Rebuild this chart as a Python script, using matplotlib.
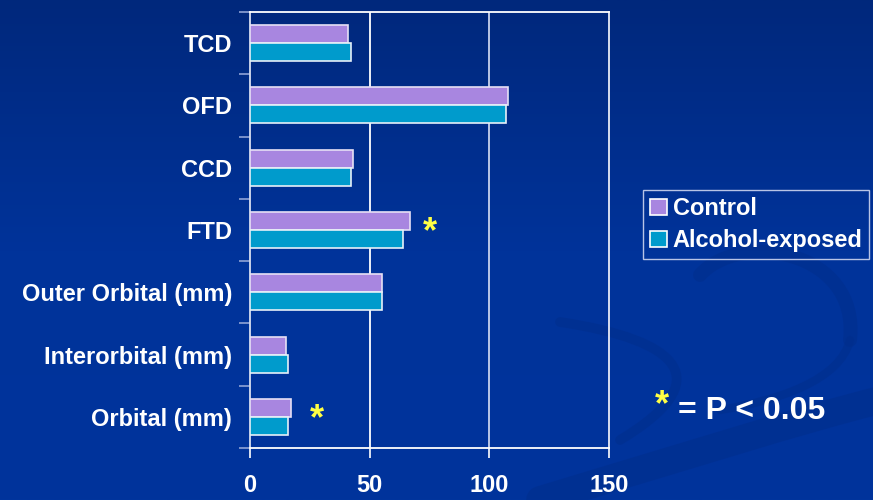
import numpy as np
import matplotlib
matplotlib.use('Agg')
import matplotlib.pyplot as plt
from matplotlib.path import Path
from matplotlib.patches import PathPatch, Patch

# Measurements per category, top to bottom
CATEGORIES = ['TCD', 'OFD', 'CCD', 'FTD', 'Outer Orbital (mm)', 'Interorbital (mm)', 'Orbital (mm)']
CONTROL = [41, 108, 43, 67, 55, 15, 17]
ALCOHOL = [42, 107, 42, 64, 55, 16, 16]
SIGNIFICANT = ['FTD', 'Orbital (mm)']
STAR_X = [75, 28]
SERIES_NAMES = ['Control', 'Alcohol-exposed']
X_TICKS = [0, 50, 100, 150]

CONTROL_COLOR = '#A886E0'
ALCOHOL_COLOR = '#009BCC'
STAR_COLOR = '#FFFF44'
FONT = 'Liberation Sans'

fig = plt.figure(figsize=(8.73, 5.0), dpi=100)

# Slide background: vertical blue gradient with faint swooshes
bg = fig.add_axes([0, 0, 1, 1], zorder=-10)
grad = np.linspace(0, 1, 256).reshape(-1, 1)
cmap = matplotlib.colors.LinearSegmentedColormap.from_list('bg', ['#00287C', '#00339A', '#00349C'])
bg.imshow(grad, aspect='auto', cmap=cmap, extent=[0, 873, 500, 0])
bg.set_xlim(0, 873)
bg.set_ylim(500, 0)
bg.axis('off')

swoosh = '#002E8C'
curves = [
    ([(540, 500), (690, 455), (800, 420), (880, 400)], 20),
    ([(560, 322), (680, 340), (720, 380), (620, 440)], 7),
    ([(700, 275), (740, 230), (860, 250), (850, 340)], 10),
    ([(850, 340), (840, 380), (780, 400), (720, 410)], 6),
]
for pts, lw in curves:
    path = Path(pts, [Path.MOVETO, Path.CURVE4, Path.CURVE4, Path.CURVE4])
    bg.add_patch(PathPatch(path, facecolor='none', edgecolor=swoosh, lw=lw,
                           alpha=0.55, capstyle='round'))

ax = fig.add_axes([250 / 873, 1 - 448 / 500, 359 / 873, 436 / 500])
ax.set_facecolor('none')

y = np.arange(len(CATEGORIES))
h = 0.29
ax.barh(y - h / 2, CONTROL, height=h, color=CONTROL_COLOR, edgecolor='#E6E0F5',
        linewidth=1.2, zorder=3, label=SERIES_NAMES[0])
ax.barh(y + h / 2, ALCOHOL, height=h, color=ALCOHOL_COLOR, edgecolor='#E6F0F8',
        linewidth=1.2, zorder=3, label=SERIES_NAMES[1])

for name, sx in zip(SIGNIFICANT, STAR_X):
    i = CATEGORIES.index(name)
    ax.text(sx, i + 0.05, '*', color=STAR_COLOR, fontsize=26, fontweight='bold',
            family=FONT, ha='center', va='center', zorder=4)

ax.set_xlim(0, 150)
ax.set_ylim(len(CATEGORIES) - 0.5, -0.5)
ax.set_xticks(X_TICKS)
ax.set_xticklabels([str(t) for t in X_TICKS], color='white', fontsize=17,
                   fontweight='bold', family=FONT)
ax.tick_params(axis='x', colors='white', length=7, width=1.2, pad=12,
               labelcolor='white')
ax.set_yticks(y)
ax.set_yticklabels(CATEGORIES, color='white', fontsize=17, fontweight='bold', family=FONT)
ax.tick_params(axis='y', length=0, pad=13)
ax.set_yticks(np.arange(len(CATEGORIES) + 1) - 0.5, minor=True)
ax.tick_params(axis='y', which='minor', length=8, width=1.2, color='#8FA3D6')

for x in [50, 100]:
    ax.axvline(x, color='white' if x == 50 else '#C8D2EC', lw=1.3, zorder=1)
for s in ax.spines.values():
    s.set_color('white')
    s.set_linewidth(1.3)
ax.spines['left'].set_color('#D8DEF0')
ax.spines['right'].set_color('#E8ECF6')

handles = [Patch(facecolor=CONTROL_COLOR, edgecolor='white', lw=1.2),
           Patch(facecolor=ALCOHOL_COLOR, edgecolor='white', lw=1.2)]
leg = fig.legend(handles, SERIES_NAMES, loc='upper left', bbox_to_anchor=(643 / 873, 1 - 190 / 500),
                 frameon=True, fancybox=False, framealpha=1, facecolor='none',
                 edgecolor='#B8C4E6', handlelength=0.7, handleheight=0.7,
                 handletextpad=0.25, borderpad=0.3, labelspacing=0.38, borderaxespad=0,
                 prop={'family': FONT, 'weight': 'bold', 'size': 17})
for t in leg.get_texts():
    t.set_color('white')
leg.get_frame().set_linewidth(1.0)

fig.text(678 / 873, 1 - 411 / 500, '= P < 0.05', color='white', fontsize=23,
         fontweight='bold', family=FONT, ha='left', va='center')
fig.text(662 / 873, 1 - 406 / 500, '*', color=STAR_COLOR, fontsize=26,
         fontweight='bold', family=FONT, ha='center', va='center')

fig.savefig('out.png', dpi=100)
